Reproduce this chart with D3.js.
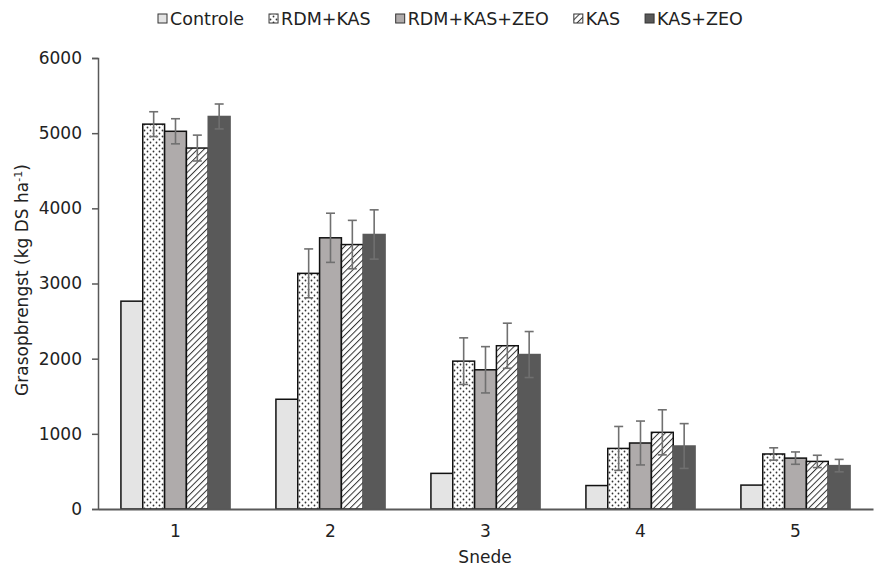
<!DOCTYPE html>
<html>
<head>
<meta charset="utf-8">
<script src="https://cdn.jsdelivr.net/npm/d3@7"></script>
<style>
  body { margin: 0; background: #fff; }
  svg { font-family: "DejaVu Sans", Verdana, sans-serif; }
</style>
</head>
<body>
<div id="chart"></div>
<script>
const cuts = ['1', '2', '3', '4', '5'];
const treatments = ['Controle', 'RDM+KAS', 'RDM+KAS+ZEO', 'KAS', 'KAS+ZEO'];
const yTicks = [0, 1000, 2000, 3000, 4000, 5000, 6000];

// mean yield per treatment, one value per cut
const controle = [2765, 1460, 474, 312, 318];
const rdmKas = [5120, 3135, 1967, 806, 732];
const rdmKasZeo = [5025, 3608, 1852, 878, 677];
const kas = [4802, 3518, 2172, 1020, 633];
const kasZeo = [5222, 3652, 2055, 838, 577];

// half error bar (standard error); Controle has none
const rdmKasErr = [165, 325, 310, 292, 82];
const rdmKasZeoErr = [167, 327, 308, 292, 82];
const kasErr = [172, 322, 300, 300, 82];
const kasZeoErr = [166, 328, 306, 298, 83];

const series = [
    { name: 'Controle', values: controle, err: null },
    { name: 'RDM+KAS', values: rdmKas, err: rdmKasErr },
    { name: 'RDM+KAS+ZEO', values: rdmKasZeo, err: rdmKasZeoErr },
    { name: 'KAS', values: kas, err: kasErr },
    { name: 'KAS+ZEO', values: kasZeo, err: kasZeoErr }
];

const width = 877;
const height = 568;
const fontSize = 17;

const svg = d3.select('#chart').append('svg')
    .attr('width', width)
    .attr('height', height);

const defs = svg.append('defs');
const dots = defs.append('pattern')
    .attr('id', 'dots')
    .attr('patternUnits', 'userSpaceOnUse')
    .attr('width', 6).attr('height', 6);
dots.append('rect').attr('width', 6).attr('height', 6).attr('fill', '#fff');
dots.append('circle').attr('cx', 1.5).attr('cy', 1.5).attr('r', 0.9).attr('fill', '#333');
dots.append('circle').attr('cx', 4.5).attr('cy', 4.5).attr('r', 0.9).attr('fill', '#333');

const hatch = defs.append('pattern')
    .attr('id', 'hatch')
    .attr('patternUnits', 'userSpaceOnUse')
    .attr('width', 4.5).attr('height', 4.5)
    .attr('patternTransform', 'rotate(45)');
hatch.append('rect').attr('width', 4.5).attr('height', 4.5).attr('fill', '#fff');
hatch.append('line').attr('x1', 0).attr('y1', 0).attr('x2', 0).attr('y2', 4.5)
    .attr('stroke', '#333').attr('stroke-width', 2);

const fills = {
    'Controle': '#e4e4e4',
    'RDM+KAS': 'url(#dots)',
    'RDM+KAS+ZEO': '#afabab',
    'KAS': 'url(#hatch)',
    'KAS+ZEO': '#595959'
};
const strokes = {
    'Controle': '#111',
    'RDM+KAS': '#111',
    'RDM+KAS+ZEO': '#111',
    'KAS': '#111',
    'KAS+ZEO': '#595959'
};

const x = d3.scaleBand().domain(cuts).range([98, 873]);
const xs = d3.scaleBand().domain(treatments).range([0, x.bandwidth()]).paddingOuter(1.05);
const y = d3.scaleLinear().domain([0, 6000]).range([509, 58]);

// y axis
const yAxis = svg.append('g')
    .attr('transform', 'translate(98,0)')
    .call(d3.axisLeft(y).tickValues(yTicks).tickFormat(d3.format('d')).tickSize(6).tickPadding(10));
yAxis.select('.domain').attr('stroke', '#595959').attr('stroke-width', 1.5);
yAxis.selectAll('.tick line').attr('stroke', '#595959').attr('stroke-width', 1.5);
yAxis.selectAll('.tick text').attr('font-size', fontSize).attr('fill', '#222')
    .attr('font-family', '"DejaVu Sans", Verdana, sans-serif');

// bars
const groups = svg.selectAll('g.cut')
    .data(cuts)
    .enter().append('g')
    .attr('class', 'cut')
    .attr('transform', d => `translate(${x(d)},0)`);

groups.selectAll('rect')
    .data((c, i) => series.map(s => ({ name: s.name, value: s.values[i], err: s.err ? s.err[i] : null })))
    .enter().append('rect')
    .attr('x', d => xs(d.name))
    .attr('y', d => y(d.value))
    .attr('width', xs.bandwidth())
    .attr('height', d => y(0) - y(d.value))
    .attr('fill', d => fills[d.name])
    .attr('stroke', d => strokes[d.name])
    .attr('stroke-width', 1.5);

// error bars
const errs = groups.selectAll('g.err')
    .data((c, i) => series.filter(s => s.err).map(s => ({ name: s.name, value: s.values[i], err: s.err[i] })))
    .enter().append('g')
    .attr('class', 'err')
    .attr('stroke', '#707070')
    .attr('stroke-width', 1.6);
errs.append('line')
    .attr('x1', d => xs(d.name) + xs.bandwidth() / 2)
    .attr('x2', d => xs(d.name) + xs.bandwidth() / 2)
    .attr('y1', d => y(d.value + d.err))
    .attr('y2', d => y(d.value - d.err));
errs.append('line')
    .attr('x1', d => xs(d.name) + xs.bandwidth() / 2 - 4.5)
    .attr('x2', d => xs(d.name) + xs.bandwidth() / 2 + 4.5)
    .attr('y1', d => y(d.value + d.err))
    .attr('y2', d => y(d.value + d.err));
errs.append('line')
    .attr('x1', d => xs(d.name) + xs.bandwidth() / 2 - 4.5)
    .attr('x2', d => xs(d.name) + xs.bandwidth() / 2 + 4.5)
    .attr('y1', d => y(d.value - d.err))
    .attr('y2', d => y(d.value - d.err));

// x axis
const xAxis = svg.append('g')
    .attr('transform', 'translate(0,509)')
    .call(d3.axisBottom(x).tickSize(0).tickPadding(16));
xAxis.select('.domain').attr('stroke', '#595959').attr('stroke-width', 1.8);
xAxis.selectAll('.tick text').attr('font-size', fontSize).attr('fill', '#222')
    .attr('font-family', '"DejaVu Sans", Verdana, sans-serif');

// axis titles
svg.append('text')
    .attr('x', 485)
    .attr('y', 563)
    .attr('text-anchor', 'middle')
    .attr('font-size', fontSize)
    .attr('fill', '#222')
    .text('Snede');

const yTitle = svg.append('text')
    .attr('transform', 'translate(28,280) rotate(-90)')
    .attr('text-anchor', 'middle')
    .attr('font-size', fontSize)
    .attr('fill', '#222');
yTitle.append('tspan').text('Grasopbrengst (kg DS ha');
yTitle.append('tspan').attr('font-size', 11).attr('dy', -6).text('-1');
yTitle.append('tspan').attr('dy', 6).text(')');

// legend
const legend = svg.append('g').attr('class', 'legend');
let lx = 158;
series.forEach(s => {
    const item = legend.append('g').attr('transform', `translate(${lx},0)`);
    item.append('rect')
        .attr('x', 0).attr('y', 14)
        .attr('width', 9).attr('height', 9)
        .attr('fill', fills[s.name])
        .attr('stroke', '#333')
        .attr('stroke-width', 1);
    const t = item.append('text')
        .attr('x', 12)
        .attr('y', 25)
        .attr('font-size', 17.5)
        .attr('fill', '#222')
        .text(s.name);
    lx += 12 + t.node().getComputedTextLength() + 25;
});
</script>
</body>
</html>
